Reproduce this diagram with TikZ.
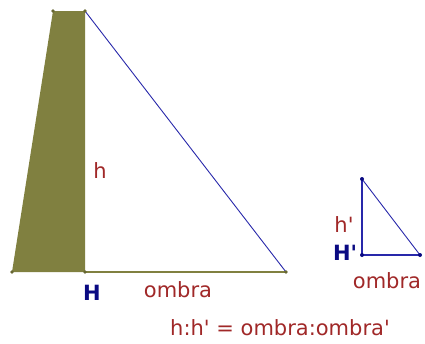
\documentclass[tikz,border=0pt]{standalone}
\usepackage{fontspec}
\setmainfont{DejaVu Sans}
\usetikzlibrary{calc}
\definecolor{oliva}{RGB}{128,128,64}
\definecolor{rosso}{RGB}{160,40,40}
\definecolor{blu}{RGB}{40,40,170}
\definecolor{bluscuro}{RGB}{10,10,130}
\newcommand{\ap}{\textquotesingle}
\begin{document}
\begin{tikzpicture}[x=1pt,y=-1pt,
  etic/.style={text=rosso,font=\fontsize{21}{24}\selectfont,inner sep=0pt,anchor=base},
  eticH/.style={text=bluscuro,font=\fontsize{21}{24}\selectfont\bfseries,inner sep=0pt,anchor=base}]
\useasboundingbox (0,0) rectangle (425,343);
% torre e ombra
\coordinate (A) at (53,11);
\coordinate (B) at (85,11);
\coordinate (H) at (85,272);
\coordinate (C) at (12,272);
\coordinate (E) at (286,272);
% bastone e ombra
\coordinate (P) at (362,179);
\coordinate (Q) at (362,255);
\coordinate (R) at (420,255);
\fill[oliva] (A) -- (B) -- (H) -- (C) -- cycle;
\draw[blu,line width=0.9pt] (B) -- (E);
\draw[oliva,line width=1.3pt] (H) -- (E);
\draw[blu,line width=1.6pt] (P) -- (Q) -- (R);
\draw[blu,line width=0.9pt] (P) -- (R);

\foreach \p in {A,B,H,C,E}
	\fill[oliva!80!black] (\p) circle (1.8);
\foreach \p in {P,Q,R}
	\fill[bluscuro] (\p) circle (2);

\node[etic] (h) at (100,178) {h};
\node[eticH] (Hlab) at (92,300) {H};
\node[etic] (omb) at (178,297) {ombra};
\node[etic] (h1) at (344,232) {h\ap};
\node[eticH] (H1lab) at (345,260) {H\ap};
\node[etic] (omb1) at (387,288) {ombra};
\node[etic] (eq) at (280,335) {h:h\ap{} = ombra:ombra\ap};
\end{tikzpicture}
\end{document}
